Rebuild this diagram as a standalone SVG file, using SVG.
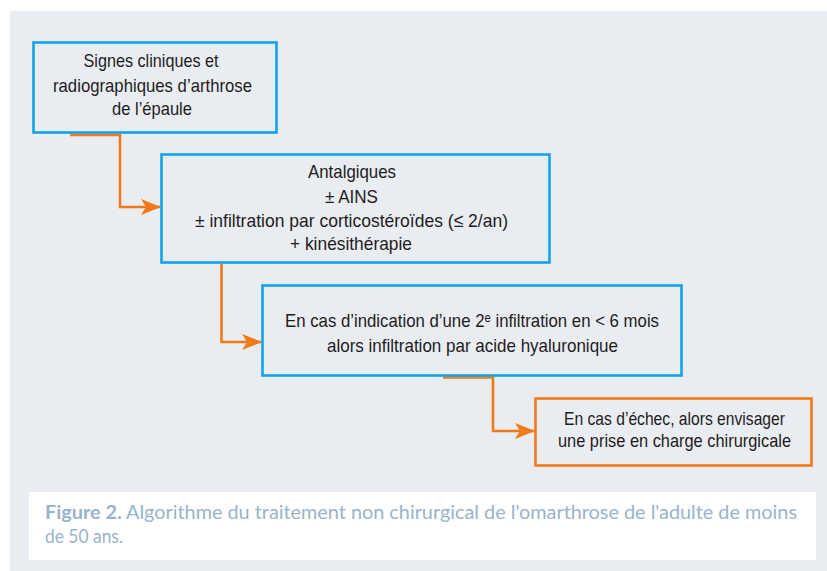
<svg xmlns="http://www.w3.org/2000/svg" width="827" height="571" viewBox="0 0 827 571">
<defs>
<style>
.panel{fill:#e9edf2}
.box{fill:#e9edf2;stroke:#12a3e3;stroke-width:2.6}
.box.final{stroke:#ef7a17}
.conn{fill:none;stroke:#ef7a17;stroke-width:2.6}
.t{font-family:"Liberation Sans","DejaVu Sans",Arial,sans-serif;font-size:19px;fill:#1f1c1d;text-anchor:middle}
.cap{font-family:Lato,"Open Sans",sans-serif;font-size:18.5px;fill:#97b4cc}
</style>
<marker id="arr" viewBox="0 0 20 16" refX="19" refY="8" markerUnits="userSpaceOnUse" markerWidth="20" markerHeight="16" orient="auto">
<path d="M0,0 L20,8 L0,16 L5,8 Z" fill="#ef7a17"/>
</marker>
</defs>
<rect x="0" y="0" width="827" height="571" fill="#ffffff"/>
<rect class="panel" x="10" y="11" width="817" height="560"/>
<rect x="29" y="492" width="787" height="68" fill="#ffffff"/>
<g id="connectors">
<polyline class="conn" points="70,135 120,135 120,207 160,207" marker-end="url(#arr)"/>
<polyline class="conn" points="221.5,264 221.5,342 261,342" marker-end="url(#arr)"/>
<polyline class="conn" points="443,377.5 493,377.5 493,431 534,431" marker-end="url(#arr)"/>
</g>
<g id="node1">
<rect class="box" x="33.5" y="42.5" width="243" height="90"/>
<text class="t" x="151" y="67" textLength="135" lengthAdjust="spacingAndGlyphs">Signes cliniques et</text>
<text class="t" x="152.5" y="91.5" textLength="199" lengthAdjust="spacingAndGlyphs">radiographiques d’arthrose</text>
<text class="t" x="152" y="115" textLength="80" lengthAdjust="spacingAndGlyphs">de l’épaule</text>
</g>
<g id="node2">
<rect class="box" x="161.5" y="154.5" width="388" height="108"/>
<text class="t" x="352" y="178" textLength="88" lengthAdjust="spacingAndGlyphs">Antalgiques</text>
<text class="t" x="351.5" y="203" textLength="53" lengthAdjust="spacingAndGlyphs">± AINS</text>
<text class="t" x="351.5" y="227" textLength="313" lengthAdjust="spacingAndGlyphs">± infiltration par corticostéroïdes (≤ 2/an)</text>
<text class="t" x="351" y="250" textLength="122" lengthAdjust="spacingAndGlyphs">+ kinésithérapie</text>
</g>
<g id="node3">
<rect class="box" x="262.5" y="285.5" width="419" height="90"/>
<text class="t" x="472" y="327" textLength="374" lengthAdjust="spacingAndGlyphs">En cas d’indication d’une 2ᵉ infiltration en &lt; 6 mois</text>
<text class="t" x="472.5" y="352" textLength="291" lengthAdjust="spacingAndGlyphs">alors infiltration par acide hyaluronique</text>
</g>
<g id="node4">
<rect class="box final" x="535.5" y="398.5" width="276" height="67"/>
<text class="t" x="674.5" y="425" textLength="221" lengthAdjust="spacingAndGlyphs">En cas d’échec, alors envisager</text>
<text class="t" x="674.5" y="447" textLength="233" lengthAdjust="spacingAndGlyphs">une prise en charge chirurgicale</text>
</g>
<g id="caption">
<text class="cap" x="45" y="519" textLength="752" lengthAdjust="spacingAndGlyphs"><tspan font-weight="bold">Figure 2.</tspan> Algorithme du traitement non chirurgical de l'omarthrose de l'adulte de moins</text>
<text class="cap" x="45" y="543" textLength="78" lengthAdjust="spacingAndGlyphs">de 50 ans.</text>
</g>
</svg>
